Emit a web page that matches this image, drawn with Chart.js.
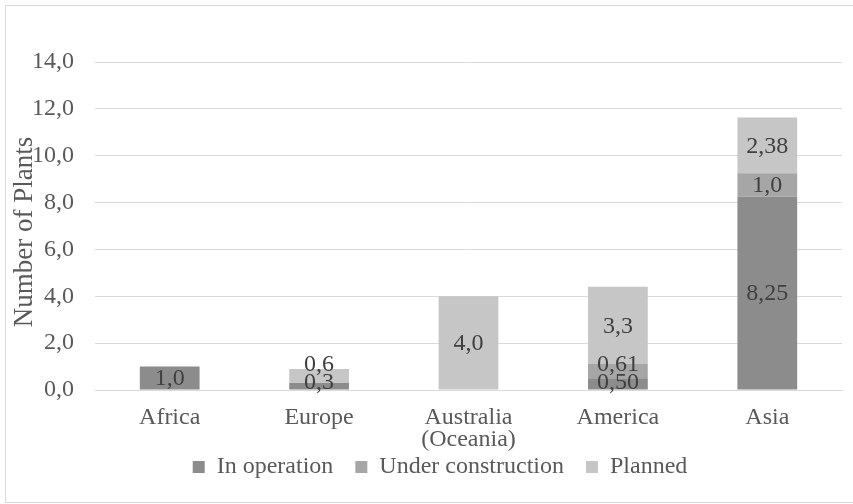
<!DOCTYPE html>
<html>
<head>
<meta charset="utf-8">
<script src="https://cdn.jsdelivr.net/npm/chart.js@4"></script>
<style>
  html, body { margin: 0; padding: 0; background: #fff; }
  #wrap { position: relative; width: 853px; height: 504px; overflow: hidden; }
  #frame { position: absolute; left: 5px; top: 5px; width: 870px; height: 496px; border: 1px solid #d9d9d9; pointer-events: none; }
</style>
</head>
<body>
<div id="wrap">
  <canvas id="plants" width="853" height="504"></canvas>
  <div id="frame"></div>
</div>
<script>
// plants by region, stacked by status
const regions = ['Africa', 'Europe', ['Australia', '(Oceania)'], 'America', 'Asia'];
const inOperation = [1.0, 0.3, null, 0.50, 8.25];
const underConstruction = [null, null, null, 0.61, 1.0];
const planned = [null, 0.6, 4.0, 3.3, 2.38];
// decimals shown on the segment labels
const opDecimals = [1, 1, 1, 2, 2];
const ucDecimals = [1, 1, 1, 2, 1];
const plDecimals = [1, 1, 1, 1, 2];
const yTicks = [0, 2, 4, 6, 8, 10, 12, 14];

const FONT = "'Liberation Serif', 'Times New Roman', serif";
const TEXT = '#595959';
Chart.defaults.font.family = FONT;
Chart.defaults.font.size = 24;
Chart.defaults.color = TEXT;

function comma(v, d){ return v.toFixed(d).replace('.', ','); }

// value labels in the middle of each segment, pushed up when they would collide
const segmentLabels = {
    id: 'segmentLabels',
    afterDatasetsDraw(chart){
        const c = chart.ctx;
        const gap = 18;
        c.save();
        c.font = '24px ' + FONT;
        c.fillStyle = '#404040';
        c.textAlign = 'center';
        c.textBaseline = 'middle';
        chart.data.labels.forEach((_, j) => {
            let lastY = null;
            chart.data.datasets.forEach((ds, i) => {
                const v = ds.data[j];
                if (v == null) return;
                const bar = chart.getDatasetMeta(i).data[j];
                let y = Math.min((bar.y + bar.base) / 2 + 1, chart.chartArea.bottom - 7);
                if (lastY !== null && y > lastY - gap) y = lastY - gap;
                c.fillText(comma(v, ds.decimals[j]), bar.x, y);
                lastY = y;
            });
        });
        c.restore();
    }
};

const yTitle = {
    id: 'yTitle',
    afterDraw(chart){
        const c = chart.ctx;
        c.save();
        c.translate(25, 232);
        c.rotate(-Math.PI / 2);
        c.font = '27px ' + FONT;
        c.fillStyle = TEXT;
        c.textAlign = 'center';
        c.textBaseline = 'middle';
        c.fillText('Number of Plants', 0, 0);
        c.restore();
    }
};

// x labels need room below the axis box for the second line; legend sits a bit right of centre
const nudge = {
    id: 'nudge',
    afterLayout(chart){
        chart.scales.x.bottom += 40;
        if (chart.legend) { chart.legend.left += 19; chart.legend.right += 19; }
    }
};

new Chart(document.getElementById('plants'), {
    type: 'bar',
    data: {
        labels: regions,
        datasets: [
            { label: 'In operation', data: inOperation, decimals: opDecimals, backgroundColor: '#8c8c8c' },
            { label: 'Under construction', data: underConstruction, decimals: ucDecimals, backgroundColor: '#a6a6a6' },
            { label: 'Planned', data: planned, decimals: plDecimals, backgroundColor: '#c6c6c6' }
        ]
    },
    options: {
        responsive: false,
        animation: false,
        events: [],
        categoryPercentage: 1,
        barPercentage: 0.4,
        layout: { padding: { top: 62, right: 11, bottom: 15, left: 0 } },
        scales: {
            x: {
                stacked: true,
                grid: { display: false, drawTicks: false },
                border: { color: '#d9d9d9', width: 1 },
                ticks: { color: TEXT, font: { family: FONT, size: 24, lineHeight: 0.9 }, padding: 17, maxRotation: 0 },
                afterFit(scale){ scale.height = 43; }
            },
            y: {
                stacked: true,
                min: 0, max: 14,
                afterBuildTicks(scale){ scale.ticks = yTicks.map(v => ({ value: v })); },
                grid: { color: '#d9d9d9', drawTicks: false },
                border: { display: false },
                ticks: { color: TEXT, font: { family: FONT, size: 24 }, padding: 21, callback: v => comma(v, 1) },
                afterFit(scale){ scale.width = 95; }
            }
        },
        plugins: {
            legend: {
                position: 'bottom',
                labels: { color: TEXT, font: { family: FONT, size: 24 }, boxWidth: 12, boxHeight: 12, padding: 22 }
            },
            tooltip: { enabled: false }
        }
    },
    plugins: [segmentLabels, yTitle, nudge]
});
</script>
</body>
</html>
